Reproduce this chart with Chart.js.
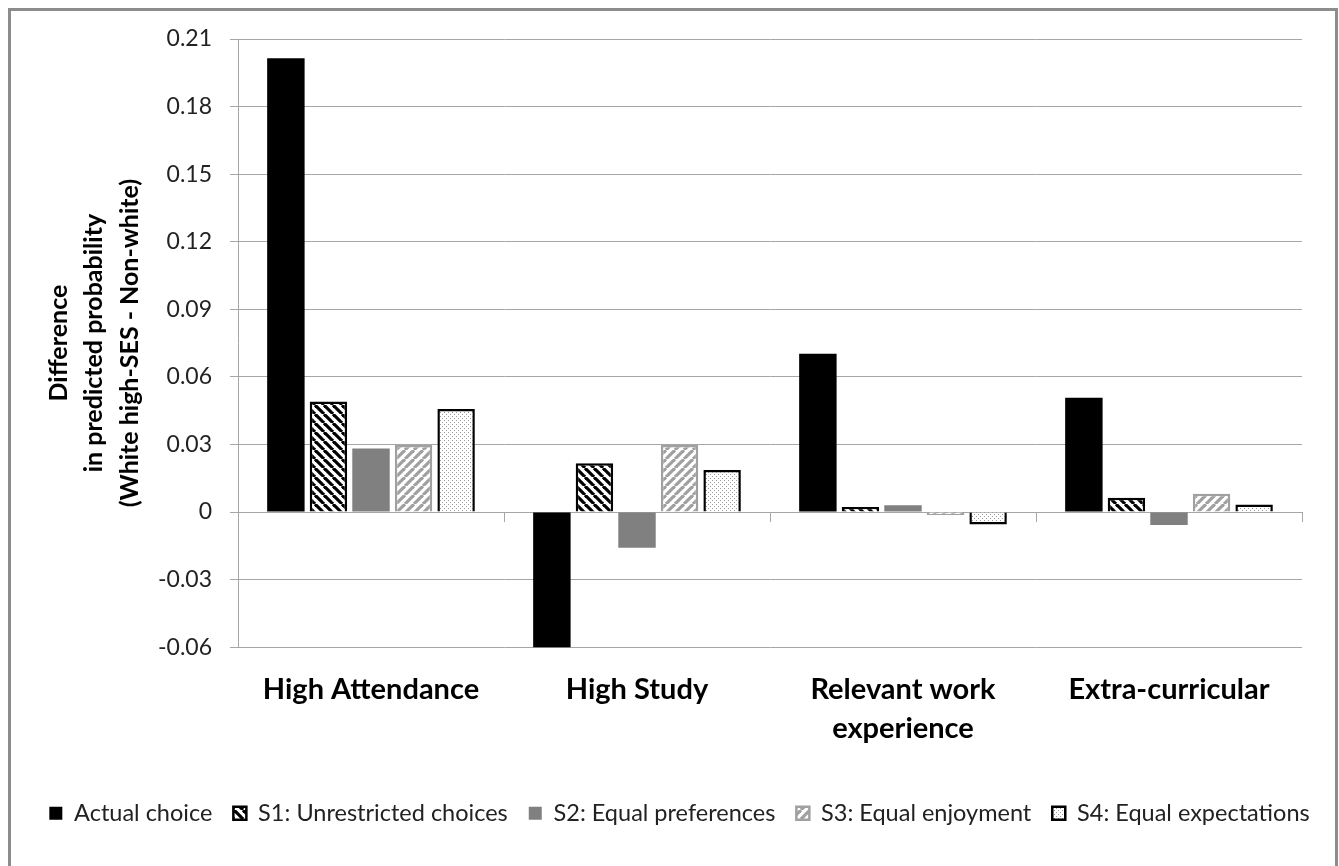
<!DOCTYPE html>
<html>
<head>
<meta charset="utf-8">
<script src="https://cdn.jsdelivr.net/npm/chart.js@4.4.1/dist/chart.umd.min.js"></script>
<style>
  body { margin: 0; background: #fff; }
  #frame { position: absolute; left: 8px; top: 8px; width: 1324px; height: 900px; border: 3px solid #8c8c8c; }
  #wrap { position: absolute; left: 0; top: 0; width: 1339px; height: 866px; }
</style>
</head>
<body>
<div id="frame"></div>
<div id="wrap"><canvas id="chart"></canvas></div>
<script>
// Daten
const categories = ["High Attendance", "High Study", ["Relevant work", "experience"], "Extra-curricular"];
const seriesNames = ["Actual choice", "S1: Unrestricted choices", "S2: Equal preferences", "S3: Equal enjoyment", "S4: Equal expectations"];
const actualChoice   = [0.2015, -0.0605, 0.0703, 0.0507];
const s1Unrestricted = [0.0491, 0.0217, 0.0022, 0.0064];
const s2Preferences  = [0.0282, -0.0159, 0.0030, -0.0058];
const s3Enjoyment    = [0.0298, 0.0298, -0.0013, 0.0081];
const s4Expectations = [0.0457, 0.0187, -0.0055, 0.0034];
const yTickValues = [-0.06, -0.03, 0, 0.03, 0.06, 0.09, 0.12, 0.15, 0.18, 0.21];
const yTitle = ["Difference", "in predicted probability", "(White high-SES - Non-white)"];

const FONT = "Lato, 'Open Sans', sans-serif";
const GRID = "#a6a6a6";

// Muster fuer die Balken
function stripes(color, dir){
    const size = 9;
    const c = document.createElement("canvas");
    c.width = size; c.height = size;
    const g = c.getContext("2d");
    g.fillStyle = "#fff";
    g.fillRect(0, 0, size, size);
    g.strokeStyle = color;
    g.lineWidth = 3.2;
    for(let k=-1;k<=1;k++){
        g.beginPath();
        if(dir === "back"){
            g.moveTo(k*size, 0); g.lineTo(k*size+size, size);
        } else {
            g.moveTo(k*size, size); g.lineTo(k*size+size, 0);
        }
        g.stroke();
    }
    return g.createPattern(c, "repeat");
}

function dots(){
    const c = document.createElement("canvas");
    c.width = 4; c.height = 4;
    const g = c.getContext("2d");
    g.fillStyle = "#fff";
    g.fillRect(0, 0, 4, 4);
    g.fillStyle = "#9a9a9a";
    g.fillRect(0, 0, 1, 1);
    g.fillRect(2, 2, 1, 1);
    return g.createPattern(c, "repeat");
}

const datasets = [
    { label: seriesNames[0], data: actualChoice, backgroundColor: "#000", borderWidth: 0 },
    { label: seriesNames[1], data: s1Unrestricted, backgroundColor: stripes("#000", "back"), borderColor: "#000", borderWidth: 2.5 },
    { label: seriesNames[2], data: s2Preferences, backgroundColor: "#808080", borderWidth: 0 },
    { label: seriesNames[3], data: s3Enjoyment, backgroundColor: stripes("#a0a0a0", "fwd"), borderColor: "#a0a0a0", borderWidth: 2.5 },
    { label: seriesNames[4], data: s4Expectations, backgroundColor: dots(), borderColor: "#000", borderWidth: 2.5 }
];

new Chart(document.getElementById("chart"), {
    type: "bar",
    data: { labels: categories, datasets: datasets },
    options: {
        responsive: true,
        maintainAspectRatio: false,
        animation: false,
        categoryPercentage: 0.8,
        barPercentage: 0.88,
        layout: { padding: { left: 20, right: 0, top: 39, bottom: 31 } },
        plugins: {
            tooltip: { enabled: false },
            legend: {
                position: "bottom",
                labels: {
                    boxWidth: 13,
                    boxHeight: 13,
                    padding: 21,
                    color: "#222",
                    font: { family: FONT, size: 23.5 }
                }
            }
        },
        scales: {
            x: {
                grid: { display: false },
                border: { display: false },
                afterFit: axis => { axis.height += 17; },
                ticks: { color: "#000", padding: 15, font: { family: FONT, size: 29, weight: "bold", lineHeight: 1.35 } }
            },
            xZero: {
                type: "category",
                labels: categories,
                position: { y: 0 },
                offset: true,
                grid: { drawOnChartArea: false, offset: true, tickLength: 9, color: GRID },
                border: { color: GRID },
                ticks: { display: false }
            },
            y: {
                min: -0.06,
                max: 0.21,
                afterBuildTicks: axis => { axis.ticks = yTickValues.map(v => ({ value: v })); },
                afterFit: axis => { axis.width = 218; },
                grid: { color: GRID, tickLength: 8 },
                border: { color: GRID },
                ticks: {
                    color: "#222",
                    padding: 18,
                    font: { family: FONT, size: 23 },
                    callback: v => Math.abs(v) < 1e-9 ? "0" : v.toFixed(2)
                },
                title: {
                    display: true,
                    text: yTitle,
                    color: "#000",
                    padding: { top: 21, bottom: 8 },
                    font: { family: FONT, size: 25, weight: "bold", lineHeight: 1.42 }
                }
            },
            yRight: {
                position: "right",
                display: true,
                grid: { display: false },
                border: { display: false },
                ticks: { display: false },
                afterFit: axis => { axis.width = 37; }
            }
        }
    }
});
</script>
</body>
</html>
